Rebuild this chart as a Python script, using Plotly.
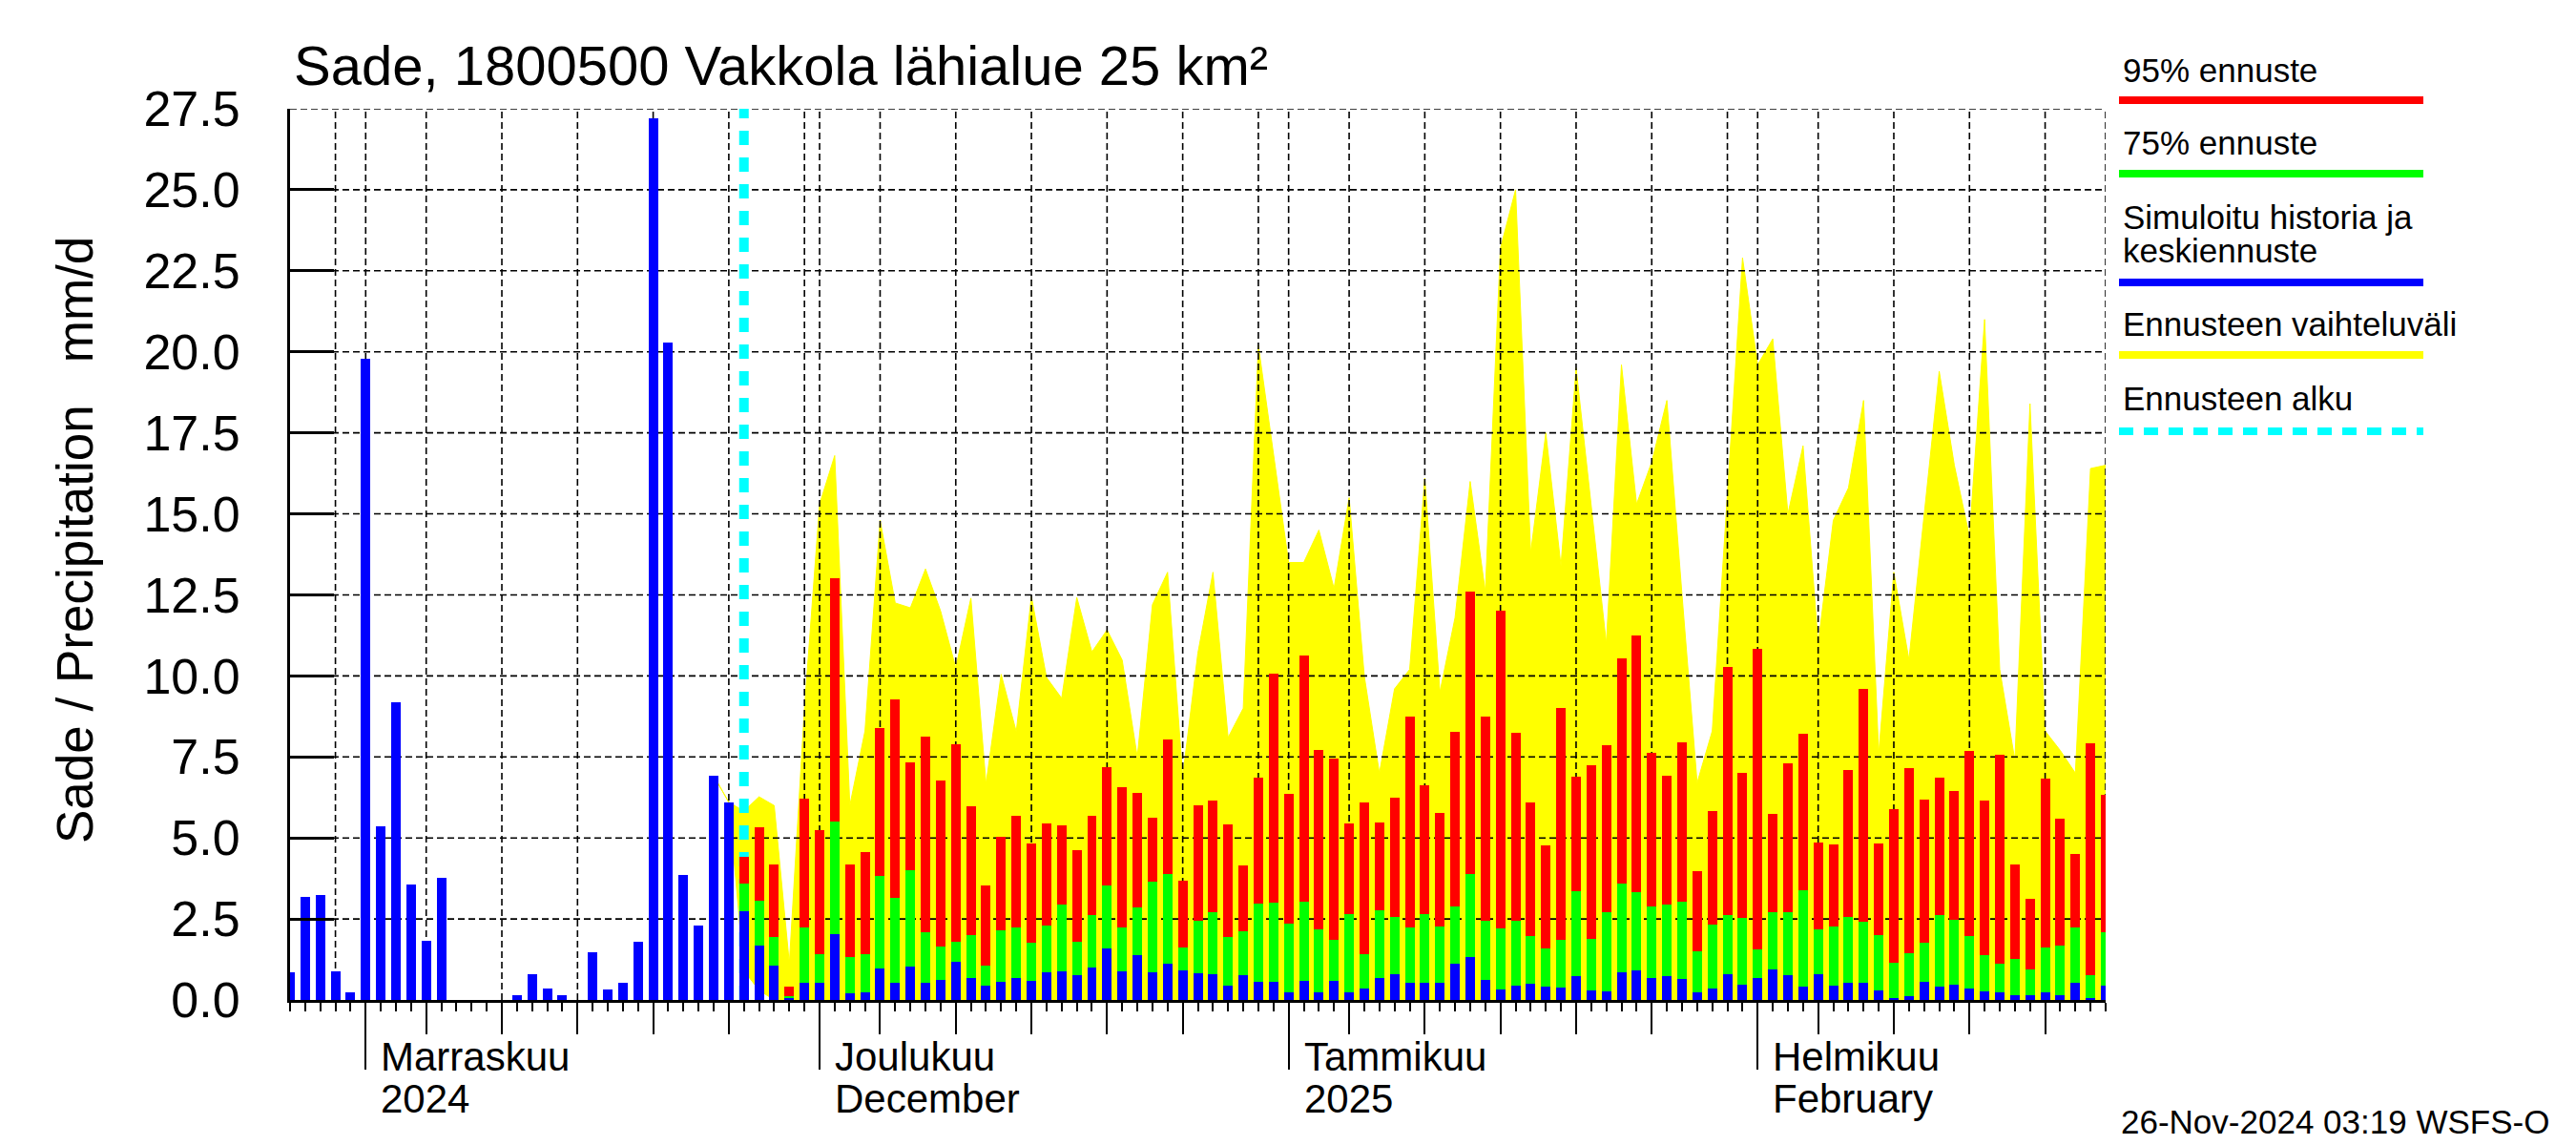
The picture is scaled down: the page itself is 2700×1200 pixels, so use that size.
import plotly.graph_objects as go
import pandas as pd

# ---------------- data ----------------
hist_start = "2024-10-27"
hist_values = [0.86, 3.19, 3.25, 0.89, 0.25, 19.8, 5.36, 9.2, 3.57, 1.83,
               3.77, 0, 0, 0, 0, 0.16, 0.80, 0.36, 0.16, 0,
               1.48, 0.33, 0.54, 1.80, 27.2, 20.3, 3.86, 2.30, 6.92, 6.10]

fc_start = "2024-11-26"
p95 = [4.43, 5.33, 4.19, 0.42, 6.20,
       5.25, 13.0, 4.19, 4.57, 8.39, 9.27, 7.33, 8.13, 6.77, 7.89, 5.98, 3.54, 5.04, 5.69, 4.83,
       5.45, 5.39, 4.63, 5.69, 7.19, 6.57, 6.39, 5.63, 8.04, 3.69, 6.01, 6.16, 5.42, 4.16, 6.86, 10.07,
       6.36, 10.63, 7.72, 7.45, 5.45, 6.10, 5.48, 6.25, 8.75, 6.63, 5.77, 8.27, 12.60, 8.75, 12.01,
       8.25, 6.10, 4.77, 9.01, 6.89, 7.25, 7.86, 10.54, 11.25, 7.63, 6.92, 7.95, 3.98, 5.83, 10.27, 7.01,
       10.83, 5.75, 7.30, 8.22, 4.86, 4.80, 7.10, 9.60, 4.83, 5.89, 7.16, 6.19, 6.86, 6.45, 7.69,
       6.16, 7.57, 4.19, 3.13, 6.83, 5.60, 4.51, 7.92, 6.33]
p75 = [3.58, 3.07, 1.95, 0.13, 2.25,
       1.42, 5.51, 1.33, 1.42, 3.83, 3.16, 4.01, 2.10, 1.66, 1.80, 2.01, 1.07, 2.16, 2.25, 1.77,
       2.30, 2.95, 1.80, 2.63, 3.54, 2.25, 2.86, 3.66, 3.89, 1.63, 2.45, 2.72, 1.95, 2.13, 2.98, 3.01,
       2.36, 3.04, 2.19, 1.86, 2.66, 1.42, 2.77, 2.57, 2.25, 2.66, 2.27, 2.89, 3.89, 2.45, 2.22,
       2.45, 1.98, 1.60, 1.86, 3.36, 1.89, 2.72, 3.60, 3.33, 2.89, 2.95, 3.04, 1.51, 2.33, 2.63, 2.54,
       1.57, 2.72, 2.72, 3.39, 2.19, 2.27, 2.57, 2.42, 2.01, 1.16, 1.45, 1.77, 2.63, 2.48, 1.98,
       1.39, 1.13, 1.27, 0.95, 1.63, 1.69, 2.25, 0.77, 2.10]
median = [2.75, 1.69, 1.07, 0.07, 0.54,
          0.54, 2.04, 0.22, 0.25, 0.98, 0.54, 1.04, 0.54, 0.63, 1.19, 0.69, 0.45, 0.57, 0.69, 0.60,
          0.86, 0.89, 0.77, 1.01, 1.60, 0.89, 1.39, 0.86, 1.13, 0.92, 0.83, 0.80, 0.45, 0.77, 0.57, 0.57,
          0.25, 0.60, 0.25, 0.60, 0.25, 0.36, 0.69, 0.80, 0.54, 0.54, 0.54, 1.13, 1.33, 0.63, 0.33,
          0.45, 0.51, 0.42, 0.39, 0.75, 0.30, 0.27, 0.86, 0.92, 0.69, 0.75, 0.66, 0.25, 0.36, 0.80, 0.48,
          0.69, 0.95, 0.77, 0.42, 0.80, 0.45, 0.54, 0.54, 0.30, 0.07, 0.13, 0.57, 0.42, 0.48, 0.36,
          0.27, 0.25, 0.16, 0.16, 0.25, 0.16, 0.54, 0.07, 0.45]

band_start = "2024-11-24"
band_max = [6.92, 6.10, 5.83, 6.27, 6.0, 1.13, 9.0,
            15.3, 16.8, 6.0, 8.3, 14.8, 12.25, 12.1, 13.3, 12.0, 10.25, 12.4, 6.67, 10.05, 8.28, 12.45,
            9.95, 9.31, 12.42, 10.74, 11.42, 10.49, 7.5, 12.2, 13.2, 6.9, 10.7, 13.2, 8.1, 9.0, 20.2, 16.8,
            13.5, 13.5, 14.5, 12.7, 15.5, 10.0, 7.0, 9.6, 10.2, 16.1, 9.5, 11.8, 16.0, 12.6, 23.2, 25.0,
            13.8, 17.5, 13.4, 19.5, 15.3, 11.0, 19.6, 15.3, 16.6, 18.5, 12.5, 6.7, 8.3, 15.5, 22.9,
            19.6, 20.4, 15.0, 17.1, 11.0, 14.8, 15.8, 18.5, 7.6, 13.2, 10.5, 15.0, 19.4, 16.5, 14.3,
            21.0, 10.2, 7.4, 18.4, 8.3, 7.7, 7.0, 16.4, 16.5]
band_min = [6.92, 6.10, 0.9, 0.3] + [0.0] * 89

forecast_start = "2024-11-26"
x_range = ["2024-10-27", "2025-02-24"]

y_tick_vals = [0, 2.5, 5, 7.5, 10, 12.5, 15, 17.5, 20, 22.5, 25, 27.5]
y_tick_text = ["0.0", "2.5", "5.0", "7.5", "10.0", "12.5", "15.0", "17.5", "20.0", "22.5", "25.0", "27.5"]

month_ticks = ["2024-11-01", "2024-12-01", "2025-01-01", "2025-02-01"]
month_labels_1 = ["Marraskuu", "Joulukuu", "Tammikuu", "Helmikuu"]
month_labels_2 = ["2024", "December", "2025", "February"]

mid_ticks = ["2024-11-05", "2024-11-10", "2024-11-15", "2024-11-20", "2024-11-25",
             "2024-12-05", "2024-12-10", "2024-12-15", "2024-12-20", "2024-12-25",
             "2025-01-05", "2025-01-10", "2025-01-15", "2025-01-20", "2025-01-25",
             "2025-02-05", "2025-02-10", "2025-02-15", "2025-02-20"]

grid_dates = ["2024-10-30",
              "2024-11-01", "2024-11-05", "2024-11-10", "2024-11-15", "2024-11-20", "2024-11-25", "2024-11-30",
              "2024-12-01", "2024-12-05", "2024-12-10", "2024-12-15", "2024-12-20", "2024-12-25", "2024-12-30",
              "2025-01-01", "2025-01-05", "2025-01-10", "2025-01-15", "2025-01-20", "2025-01-25", "2025-01-30",
              "2025-02-01", "2025-02-05", "2025-02-10", "2025-02-15", "2025-02-20", "2025-02-24"]

legend_labels = ["95% ennuste", "75% ennuste", "Simuloitu historia ja", "keskiennuste",
                 "Ennusteen vaihteluväli", "Ennusteen alku"]
title_text = "Sade, 1800500 Vakkola lähialue 25 km²"
ytitle_text = "Sade / Precipitation\u00a0\u00a0\u00a0mm/d"
stamp_text = "26-Nov-2024 03:19 WSFS-O"

# ---------------- geometry (screen pixels; page body has an 8px margin) ----------------
OFF = 8
W, H = 2700 - OFF, 1200 - OFF
L, R, T, B = 304, 2207, 114, 1048          # plot area in screen pixels
FONT = "Liberation Sans, Arial, Helvetica, sans-serif"


def xp(px):
    return (px - L) / (R - L)


def yp(py):
    return (B - py) / (B - T)


hist_dates = pd.date_range(hist_start, periods=len(hist_values), freq="D")
fc_dates = pd.date_range(fc_start, periods=len(p95), freq="D")
band_dates = pd.date_range(band_start, periods=len(band_max), freq="D")

BAR_W = 0.63 * 86400000
RED, GREEN, BLUE, YELLOW, CYAN = "#FF0000", "#00FF00", "#0000FF", "#FFFF00", "#00FFFF"

fig = go.Figure()

# yellow range band (main subplot, lowest)
fig.add_trace(go.Scatter(x=band_dates, y=band_min, mode="lines",
                         line=dict(color=YELLOW, width=1), hoverinfo="skip"))
fig.add_trace(go.Scatter(x=band_dates, y=band_max, mode="lines", fill="tonexty",
                         fillcolor=YELLOW, line=dict(color=YELLOW, width=1), hoverinfo="skip"))

# dashed grid (above the band, below bars)
gx, gy = [], []
for d in grid_dates:
    gx += [d, d, None]
    gy += [y_tick_vals[0], y_tick_vals[-1], None]
fig.add_trace(go.Scatter(x=gx, y=gy, mode="lines", cliponaxis=False,
                         line=dict(color="black", width=1.6, dash="7px,4px"), hoverinfo="skip"))
hx, hy = [], []
for v in y_tick_vals[1:]:
    hx += [x_range[0], x_range[1], None]
    hy += [v, v, None]
fig.add_trace(go.Scatter(x=hx, y=hy, mode="lines", cliponaxis=False,
                         line=dict(color="black", width=1.6, dash="7px,4px"), hoverinfo="skip"))

# forecast start line
fig.add_trace(go.Scatter(x=[forecast_start, forecast_start], y=[y_tick_vals[0], y_tick_vals[-1]],
                         mode="lines", cliponaxis=False,
                         line=dict(color=CYAN, width=10, dash="15px,13px"), hoverinfo="skip"))

# bars on overlay subplot (drawn above band and grid)
for xs, ys, col in [(hist_dates, hist_values, BLUE), (fc_dates, p95, RED),
                    (fc_dates, p75, GREEN), (fc_dates, median, BLUE)]:
    fig.add_trace(go.Bar(x=xs, y=ys, width=BAR_W, marker=dict(color=col, line=dict(width=0)),
                         xaxis="x2", yaxis="y2", cliponaxis=False, opacity=1))

fig.update_layout(
    width=W, height=H,
    margin=dict(l=L - OFF, r=W - (R - OFF), t=T - OFF, b=H - (B - OFF), autoexpand=False),
    paper_bgcolor="white", plot_bgcolor="white",
    showlegend=False, barmode="overlay", bargap=0,
    font=dict(family=FONT, color="black"),
    xaxis=dict(type="date", range=x_range, showgrid=False, zeroline=False,
               showline=True, linecolor="black", linewidth=3,
               tickmode="array", tickvals=month_ticks, ticks="outside", ticklen=70,
               tickwidth=2, tickcolor="black", showticklabels=False,
               minor=dict(ticks="outside", ticklen=9, tickwidth=2, tickcolor="black",
                          dtick=86400000, tick0=x_range[0], showgrid=False),
               fixedrange=True),
    xaxis2=dict(type="date", range=x_range, overlaying="x", anchor="y2", side="bottom",
                showgrid=False, zeroline=False, showline=False,
                tickmode="array", tickvals=mid_ticks, ticks="outside", ticklen=35,
                tickwidth=2, tickcolor="black", showticklabels=False, fixedrange=True),
    yaxis=dict(range=[y_tick_vals[0], y_tick_vals[-1]], showgrid=False, zeroline=False,
               showline=True, linecolor="black", linewidth=3,
               tickmode="array", tickvals=y_tick_vals, ticktext=y_tick_text,
               ticks="inside", ticklen=46, tickwidth=3, tickcolor="black",
               ticklabelstandoff=39,
               tickfont=dict(family=FONT, size=52, color="black"), fixedrange=True),
    yaxis2=dict(range=[y_tick_vals[0], y_tick_vals[-1]], overlaying="y", visible=False,
                fixedrange=True),
)

ann = []
ann.append(dict(text=title_text, x=xp(306), y=yp(68), xref="paper", yref="paper",
                xanchor="left", yanchor="middle", showarrow=False,
                font=dict(family=FONT, size=58, color="black")))
ann.append(dict(text=ytitle_text, x=xp(78), y=yp(566), xref="paper", yref="paper",
                xanchor="center", yanchor="middle", textangle=-90, showarrow=False,
                font=dict(family=FONT, size=53, color="black")))
for d, l1, l2 in zip(month_ticks, month_labels_1, month_labels_2):
    ann.append(dict(text=l1, x=d, xshift=14, y=yp(1107), xref="x", yref="paper",
                    xanchor="left", yanchor="middle", showarrow=False,
                    font=dict(family=FONT, size=42, color="black")))
    ann.append(dict(text=l2, x=d, xshift=14, y=yp(1151), xref="x", yref="paper",
                    xanchor="left", yanchor="middle", showarrow=False,
                    font=dict(family=FONT, size=42, color="black")))

legend_text_y = [74, 150, 227, 263, 339, 417]
for t, y in zip(legend_labels, legend_text_y):
    ann.append(dict(text=t, x=xp(2223), y=yp(y), xref="paper", yref="paper",
                    xanchor="left", yanchor="middle", showarrow=False,
                    font=dict(family=FONT, size=35, color="black")))
ann.append(dict(text=stamp_text, x=xp(2221), y=yp(1175), xref="paper", yref="paper",
                xanchor="left", yanchor="middle", showarrow=False,
                font=dict(family=FONT, size=35, color="black")))

shapes = []
legend_lines = [(105, RED, None), (182, GREEN, None), (296, BLUE, None),
                (372, YELLOW, None), (452, CYAN, "15px,11px")]
for y, c, dash in legend_lines:
    ln = dict(color=c, width=8)
    if dash:
        ln["dash"] = dash
    shapes.append(dict(type="line", xref="paper", yref="paper",
                       x0=xp(2221), x1=xp(2540), y0=yp(y), y1=yp(y), line=ln))

fig.update_layout(annotations=ann, shapes=shapes)

fig.write_html("out.html")
